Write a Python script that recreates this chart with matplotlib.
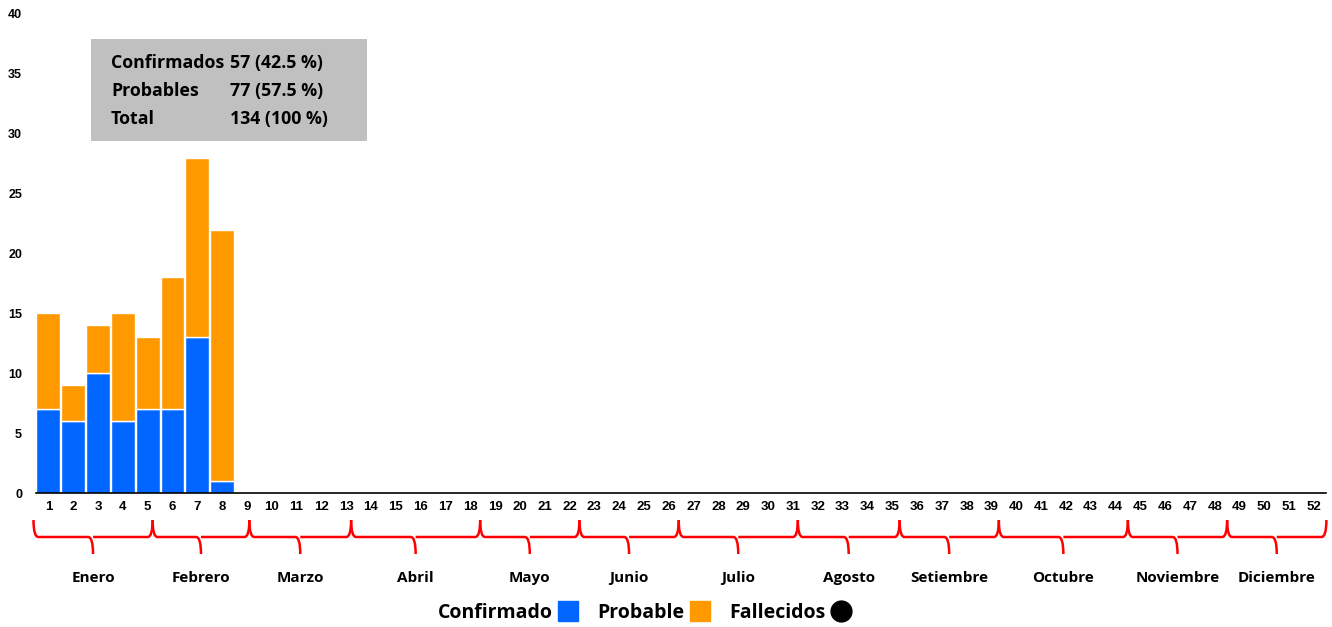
import numpy as np
import matplotlib
matplotlib.use("Agg")
import matplotlib.pyplot as plt
from matplotlib.path import Path
from matplotlib.patches import PathPatch, Rectangle
from matplotlib.lines import Line2D
from matplotlib.transforms import blended_transform_factory

# datos por semana epidemiologica
semanas = np.arange(1, 53)
confirmados = [7, 6, 10, 6, 7, 7, 13, 1]
probables = [8, 3, 4, 9, 6, 11, 15, 21]

# limites aproximados de meses (en semanas) y nombres
meses = ['Enero', 'Febrero', 'Marzo', 'Abril', 'Mayo', 'Junio', 'Julio',
         'Agosto', 'Setiembre', 'Octubre', 'Noviembre', 'Diciembre']
limites_meses = [0.4, 5.2, 9.1, 13.2, 18.4, 22.4, 26.4, 31.2, 35.3, 39.3, 44.5, 48.5, 52.5]

resumen_etiquetas = ['Confirmados', 'Probables', 'Total']
resumen_valores = ['57 (42.5 %)', '77 (57.5 %)', '134 (100 %)']

azul = '#0066ff'
naranja = '#ff9900'
rojo = '#ff0000'
fuente = 'Open Sans'

fig = plt.figure(figsize=(13.32, 6.27), dpi=100)
ax = fig.add_axes([0.027, 0.2137, 0.9688, 0.764])

x = np.arange(1, len(confirmados) + 1)
ax.bar(x, confirmados, width=0.96, color=azul, edgecolor='white', linewidth=1, zorder=2)
ax.bar(x, probables, bottom=confirmados, width=0.96, color=naranja, edgecolor='white', linewidth=1, zorder=2)

ax.set_xlim(0.5, 52.5)
ax.set_ylim(0, 40)
ax.set_yticks(range(0, 41, 5))
ax.set_xticks(semanas)
for s in ['top', 'right', 'left']:
    ax.spines[s].set_visible(False)
ax.spines['bottom'].set_linewidth(1.2)
ax.tick_params(axis='y', length=0, pad=10)
ax.tick_params(axis='x', length=0, pad=6)
for lbl in ax.get_yticklabels():
    lbl.set_fontfamily('Liberation Sans')
    lbl.set_fontweight('bold')
    lbl.set_fontsize(9)
for lbl in ax.get_xticklabels():
    lbl.set_fontfamily('Liberation Sans')
    lbl.set_fontweight('bold')
    lbl.set_fontsize(9.5)

# cuadro resumen
fig.patches.append(Rectangle((91 / 1332, 1 - 141 / 627), 276 / 1332, 102 / 627,
                             transform=fig.transFigure, facecolor='#c0c0c0',
                             edgecolor='none', zorder=3))
for i, (et, val) in enumerate(zip(resumen_etiquetas, resumen_valores)):
    yy = 1 - (63 + 28 * i) / 627
    fig.text(111 / 1332, yy, et, fontsize=12.8, fontweight='bold', family=fuente,
             va='center', ha='left', zorder=4)
    fig.text(230 / 1332, yy, val, fontsize=12.8, fontweight='bold', family=fuente,
             va='center', ha='left', zorder=4)

# llaves de meses
tr = blended_transform_factory(ax.transData, fig.transFigure)
y_top = 1 - 520 / 627
y_mid = 1 - 537 / 627
y_bot = 1 - 554 / 627
d = 0.2
for i, nombre in enumerate(meses):
    x0 = limites_meses[i]
    x1 = limites_meses[i + 1]
    xc = (x0 + x1) / 2
    verts = [(x0, y_top), (x0, y_mid), (x0 + d, y_mid),
             (xc - d, y_mid), (xc, y_mid), (xc, y_bot),
             (xc, y_mid), (xc + d, y_mid),
             (x1 - d, y_mid), (x1, y_mid), (x1, y_top)]
    codes = [Path.MOVETO, Path.CURVE3, Path.CURVE3,
             Path.LINETO, Path.CURVE3, Path.CURVE3,
             Path.MOVETO, Path.CURVE3,
             Path.LINETO, Path.CURVE3, Path.CURVE3]
    ax.add_patch(PathPatch(Path(verts, codes), transform=tr, facecolor='none',
                           edgecolor=rojo, linewidth=1.8, clip_on=False))
    ax.text(xc, 1 - 578 / 627, nombre, transform=tr, ha='center', va='center',
            fontsize=11, fontweight='bold', family=fuente)

# leyenda
handles = [Line2D([], [], marker='s', markersize=15, color=azul, linestyle='none'),
           Line2D([], [], marker='s', markersize=15, color=naranja, linestyle='none'),
           Line2D([], [], marker='o', markersize=15, color='black', linestyle='none')]
fig.legend(handles, ['Confirmado', 'Probable', 'Fallecidos'], loc='center',
           bbox_to_anchor=(644 / 1332, 1 - 613 / 627), ncol=3, frameon=False,
           markerfirst=False, handletextpad=0.3, columnspacing=1.0, handlelength=1,
           prop={'family': fuente, 'weight': 'bold', 'size': 14})

fig.savefig('out.png', dpi=100)
